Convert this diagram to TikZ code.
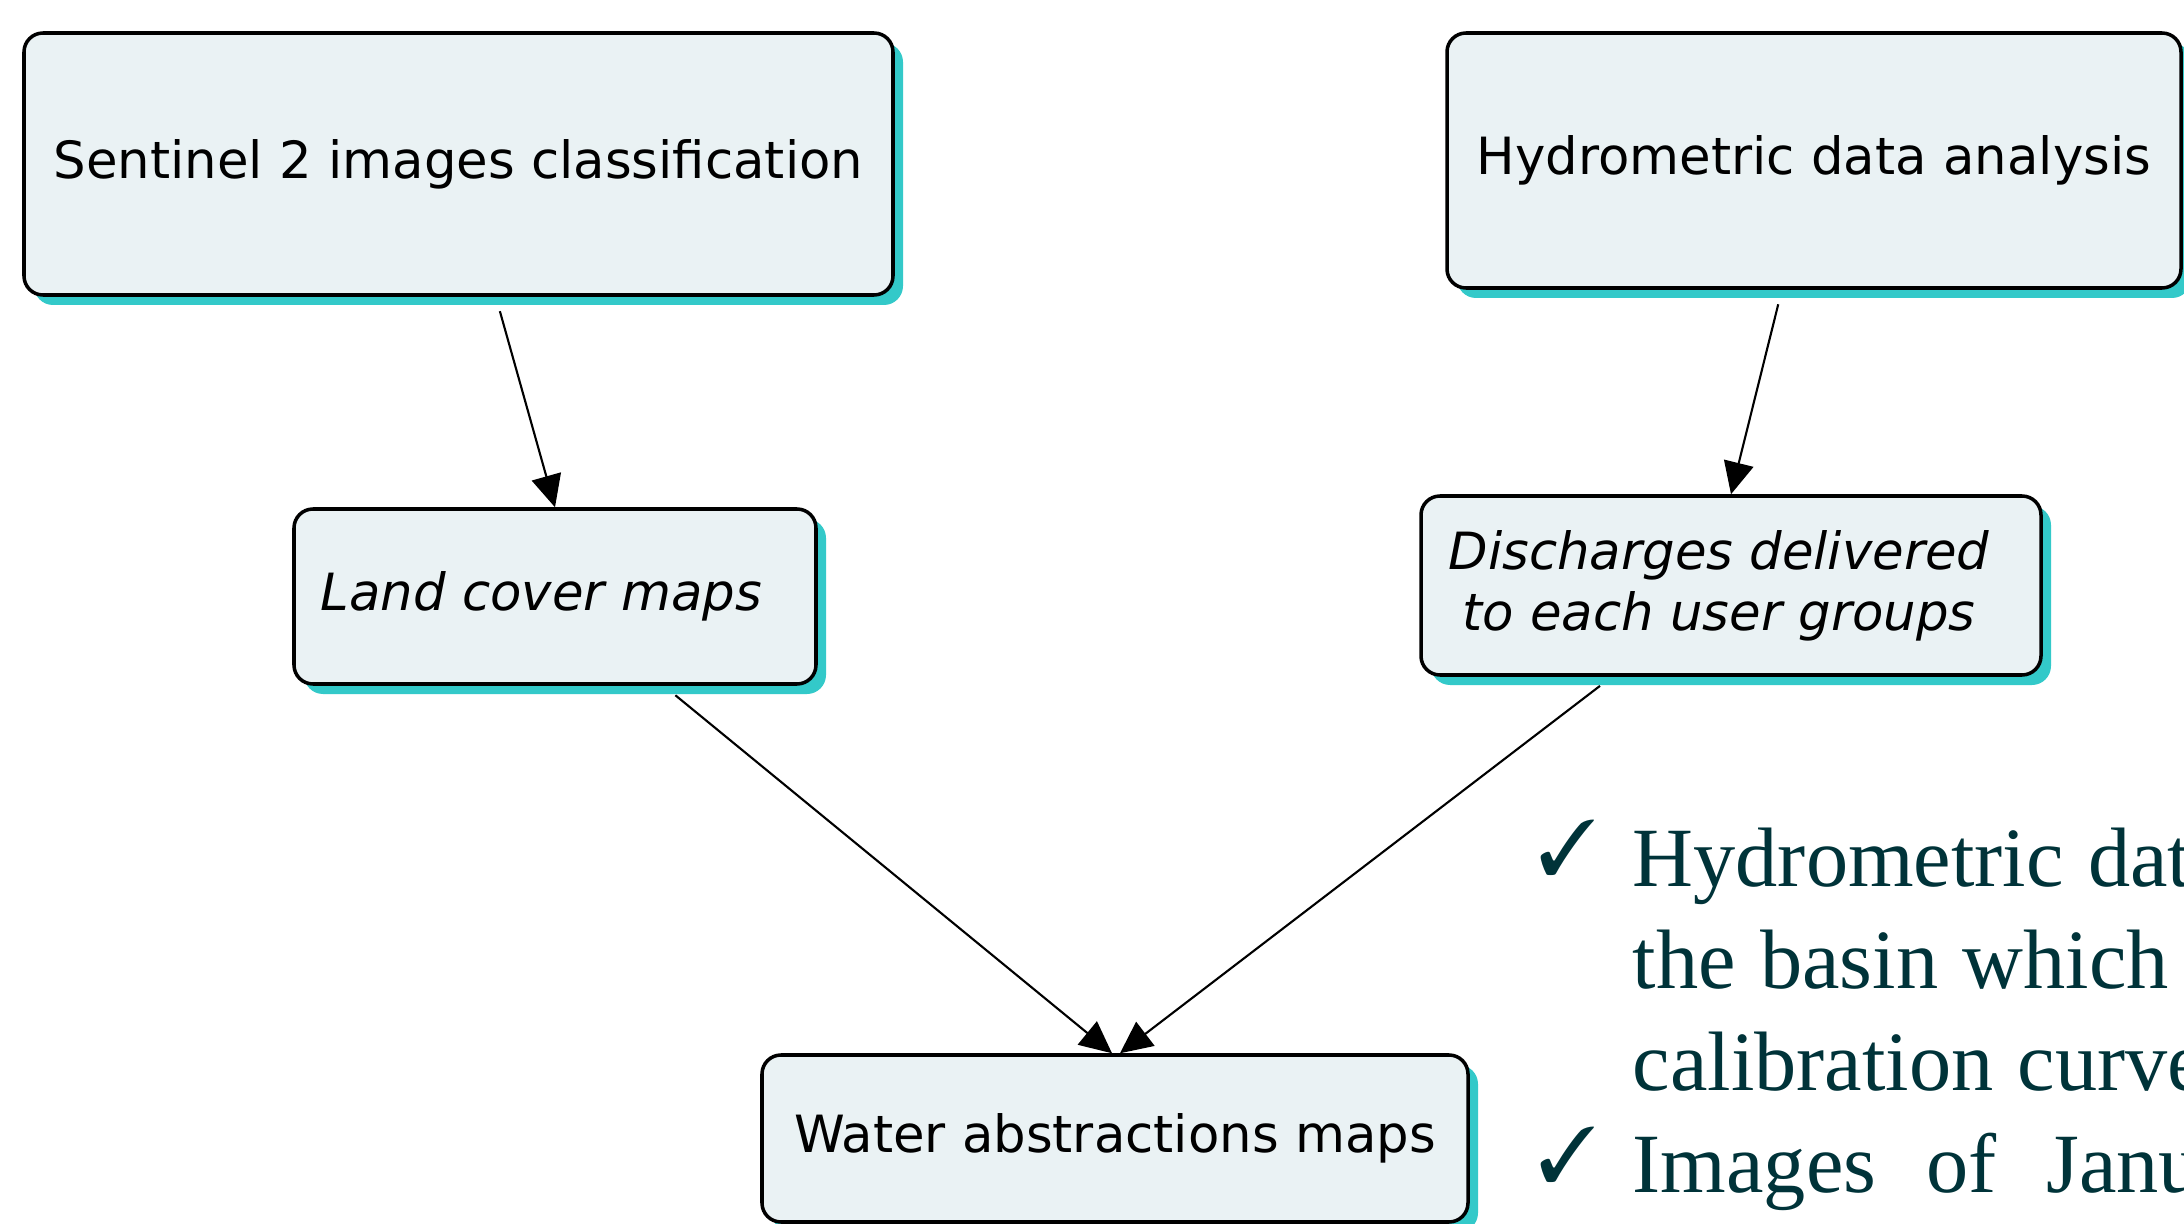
\documentclass[tikz,border=0pt]{standalone}
\usepackage{fontspec}
\usepackage{pifont}
\usetikzlibrary{arrows.meta,shadows}
\newfontfamily\boxfont{DejaVu Sans}
\newfontfamily\notefont{Liberation Serif}
\definecolor{boxfill}{HTML}{EAF2F4}
\definecolor{boxshade}{HTML}{33C9C9}
\definecolor{notecolor}{HTML}{003339}
\begin{document}
\begin{tikzpicture}[concept/.style={draw,line width=1pt,rounded corners=0.19cm,fill=boxfill,
                    general shadow={fill=boxshade,shadow xshift=0.1cm,shadow yshift=-0.1cm},
                    font=\boxfont\fontsize{14.6}{17.4}\selectfont,inner sep=0pt},
                    result/.style={concept,font=\boxfont\itshape\fontsize{14.6}{17.4}\selectfont},
                    link/.style={-{Triangle[length=0.32cm,width=0.3cm]},line width=0.6pt,shorten <=0.15cm},
                    note/.style={font=\notefont\fontsize{24}{29}\selectfont,text=notecolor,anchor=base west,
                    inner sep=0pt,execute at begin node={\spaceskip=#1\relax}},note/.default=0.245cm,
                    tick/.style={font=\fontsize{22}{22}\selectfont,text=notecolor,anchor=base west,inner sep=0pt}]
                \useasboundingbox (0,0) rectangle (21.84,-12.24);
                \clip (0,0) rectangle (21.84,-12.24);
                \node[concept,minimum width=8.69cm,minimum height=2.62cm](sentinel) at (4.585,-1.64){Sentinel 2 images classification};
                \node[concept,minimum width=7.34cm,minimum height=2.55cm](hydro) at (18.14,-1.605){Hydrometric data analysis};
                \node[result,minimum width=5.22cm,minimum height=1.75cm](landcover) at (5.55,-5.965){Land cover maps\hspace*{0.27cm}};
                \node[result,align=center,minimum width=6.2cm,minimum height=1.79cm](discharges) at (17.31,-5.855){Discharges delivered\hspace*{0.24cm}\\to each user groups\hspace*{0.24cm}};
                \node[concept,minimum width=7.06cm,minimum height=1.67cm](water) at (11.15,-11.385){Water abstractions maps};
                \draw[link](sentinel) -- (landcover.north);
                \draw[link](hydro) -- (discharges.north);
                \draw[link](landcover) -- ([xshift=-0.03cm]water.north);
                \draw[link](discharges) -- ([xshift=0.05cm]water.north);
                \node[tick](tick1) at (15.38,-8.74){\ding{51}};
                \node[note](line1) at (16.32,-8.86){Hydrometric dat};
                \node[note](line2) at (16.32,-9.88){the basin which};
                \node[note](line3) at (16.32,-10.90){calibration curve};
                \node[tick](tick2) at (15.38,-11.81){\ding{51}};
                \node[note=0.5cm](line4) at (16.32,-11.92){Images of Janu};
            \end{tikzpicture}
\end{document}
